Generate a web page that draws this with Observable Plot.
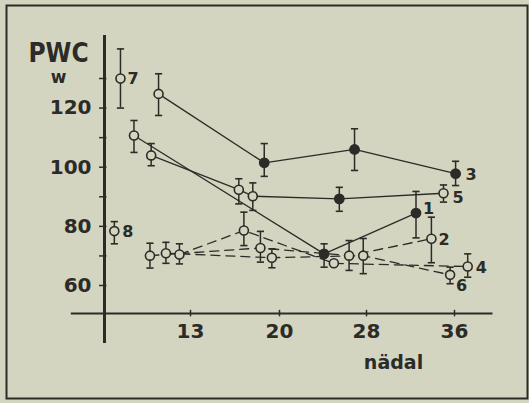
<!DOCTYPE html>
<html><head><meta charset="utf-8">
<script src="https://cdn.jsdelivr.net/npm/d3@7"></script>
<script src="https://cdn.jsdelivr.net/npm/@observablehq/plot@0.6"></script>
<style>html,body{margin:0;padding:0;background:#d3d5c1;} #chart{width:529px;height:403px;overflow:hidden;}</style>
</head><body><div id="chart"></div>
<script>
// ---- data (x = week, y = PWC in W) ----
const weekTicks = [13, 20, 28, 36];
const yMinorTicks = [60, 70, 80, 90, 100, 110, 120, 130];
const yTickLabels = [60, 80, 100, 120];

const s1Weeks = [8.4, 24.1, 32.5];
const s1Values = [110.7, 70.7, 84.5];
const s1Low = [105, 66.2, 76.1];
const s1High = [115.8, 74.1, 91.8];
const s1Filled = [false, true, true];

const s2Weeks = [9.7, 18.5, 26.4, 33.9];
const s2Values = [70.1, 72.7, 70.1, 75.8];
const s2Low = [65.9, 67.9, 65.1, 67.7];
const s2High = [74.3, 78.3, 75.2, 83.1];

const s3Weeks = [10.4, 18.8, 26.9, 36.1];
const s3Values = [124.8, 101.5, 106, 97.8];
const s3Low = [117.5, 96.9, 98.9, 93.8];
const s3High = [131.6, 108, 113, 102];
const s3Filled = [false, true, true, true];

const s4Weeks = [12.1, 17.2, 25.0, 37.2];
const s4Values = [70.5, 78.6, 67.5, 66.4];
const s4Low = [67.3, 73.5, 67.5, 62.8];
const s4High = [74.1, 84.8, 67.5, 70.7];

const s5Weeks = [9.8, 16.8, 17.9, 25.5, 35.0];
const s5Values = [104, 92.4, 90.2, 89.3, 91.2];
const s5Low = [100.5, 87.6, 85.4, 85.1, 88.2];
const s5High = [108, 96.1, 94.7, 93.2, 94];
const s5Filled = [false, false, false, true, false];

const s6Weeks = [11.0, 19.4, 27.7, 35.6];
const s6Values = [70.9, 69.4, 70.1, 63.6];
const s6Low = [67.5, 66, 64, 60.6];
const s6High = [74.6, 72.4, 75.9, 66.2];

const s7Weeks = [7.3];
const s7Values = [130];
const s7Low = [120];
const s7High = [140];

const s8Weeks = [6.8];
const s8Values = [78.4];
const s8Low = [74.1];
const s8High = [81.6];

// ---- build rows ----
const rows = [];
function add(label, kind, weeks, values, low, high, filled) {
  weeks.forEach((w, i) => rows.push({label, kind, week: w, value: values[i], low: low[i], high: high[i], filled: filled ? filled[i] : false}));
}
add("1", "solid", s1Weeks, s1Values, s1Low, s1High, s1Filled);
add("2", "dashed", s2Weeks, s2Values, s2Low, s2High);
add("3", "solid", s3Weeks, s3Values, s3Low, s3High, s3Filled);
add("4", "dashed", s4Weeks, s4Values, s4Low, s4High);
add("5", "solid", s5Weeks, s5Values, s5Low, s5High, s5Filled);
add("6", "dashed", s6Weeks, s6Values, s6Low, s6High);
add("7", "single", s7Weeks, s7Values, s7Low, s7High);
add("8", "single", s8Weeks, s8Values, s8Low, s8High);

// ---- styling ----
const ink = "#2c2b27", bg = "#d3d5c1";
const axisWeek = 6;          // where the vertical axis stands
const xAxisValue = 50.5;     // where the horizontal axis stands
const labelOffsets = {"1": [7, -4], "2": [7, 1], "3": [10, 1], "4": [8, 1], "5": [9, 5], "6": [6, 11], "7": [7, 0], "8": [8, 1]};
const capSymbol = {draw(ctx, size) { const r = Math.sqrt(size / Math.PI); ctx.moveTo(-r, 0); ctx.lineTo(r, 0); }};

const withErr = rows.filter(d => d.high > d.low);
const ends = Object.keys(labelOffsets).map(k => { const s = rows.filter(d => d.label === k); return s[s.length - 1]; });

const marks = [
  Plot.frame({stroke: ink, strokeWidth: 2, insetLeft: 6, insetTop: 5, insetRight: 2, insetBottom: 5}),
  Plot.ruleX([axisWeek], {y1: 40.4, y2: 144.5, stroke: ink, strokeWidth: 3}),
  Plot.ruleY([xAxisValue], {x1: 3.3, x2: 39.5, stroke: ink, strokeWidth: 2}),
  Plot.ruleY(yMinorTicks, {x1: 5.6, x2: 6.2, stroke: ink, strokeWidth: 1.5}),
  Plot.ruleX(weekTicks, {y1: 49.4, y2: 51.6, stroke: ink, strokeWidth: 1.5}),
  Plot.text(yTickLabels, {x: () => axisWeek, y: d => d, dx: -13, textAnchor: "end", fontSize: 20, fontWeight: "bold", fill: ink}),
  Plot.text(weekTicks, {x: d => d, y: () => xAxisValue, dy: 18, fontSize: 20, fontWeight: "bold", fill: ink}),
  Plot.text(["PWC"], {frameAnchor: "top-left", dx: 58, dy: 43, textAnchor: "middle", fontSize: 26, fontWeight: "bold", fontFamily: "DejaVu Sans Condensed", fill: ink}),
  Plot.text(["w"], {frameAnchor: "top-left", dx: 58, dy: 70, textAnchor: "middle", fontSize: 17, fontWeight: "bold", fill: ink}),
  Plot.text(["nädal"], {frameAnchor: "top-left", dx: 393, dy: 355, textAnchor: "middle", fontSize: 19, fontWeight: "bold", fill: ink}),
  Plot.line(rows.filter(d => d.kind === "solid"), {x: "week", y: "value", z: "label", stroke: ink, strokeWidth: 1.3}),
  Plot.line(rows.filter(d => d.kind === "dashed"), {x: "week", y: "value", z: "label", stroke: ink, strokeWidth: 1.3, strokeDasharray: "9,6"}),
  Plot.ruleX(withErr, {x: "week", y1: "low", y2: "high", stroke: ink, strokeWidth: 1.5}),
  Plot.dot(withErr, {x: "week", y: "high", symbol: capSymbol, r: 3.6, stroke: ink, strokeWidth: 1.6, fill: "none"}),
  Plot.dot(withErr, {x: "week", y: "low", symbol: capSymbol, r: 3.6, stroke: ink, strokeWidth: 1.6, fill: "none"}),
  Plot.dot(rows.filter(d => !d.filled), {x: "week", y: "value", r: 4.5, stroke: ink, strokeWidth: 1.6, fill: bg}),
  Plot.dot(rows.filter(d => d.filled), {x: "week", y: "value", r: 4.8, stroke: ink, strokeWidth: 1.2, fill: ink}),
  ...ends.map(d => Plot.text([d], {x: "week", y: "value", text: "label", dx: labelOffsets[d.label][0], dy: labelOffsets[d.label][1], textAnchor: "start", fontSize: 16, fontWeight: "bold", fill: ink}))
];

const chart = Plot.plot({
  width: 529, height: 403, margin: 0,
  style: {background: bg, color: ink, fontFamily: "DejaVu Sans", overflow: "visible"},
  x: {type: "linear", domain: [6, 13, 20, 28, 36], range: [104, 190, 279, 366, 454], axis: null},
  y: {type: "linear", domain: [60, 130], range: [285, 78], axis: null},
  marks
});
document.getElementById("chart").append(chart);
</script>
</body></html>
